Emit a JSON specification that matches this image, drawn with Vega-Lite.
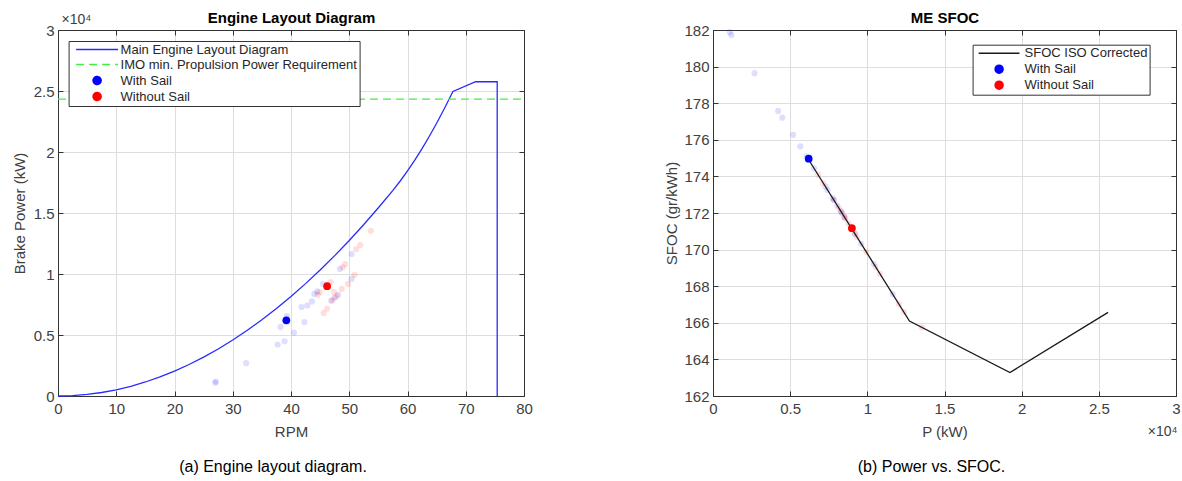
{
  "$schema": "https://vega.github.io/schema/vega-lite/v6.json",
  "background": "white",
  "padding": {"left": 11, "top": 10, "right": 2, "bottom": 2},
  "datasets": {
    "engine": [
      {"step": 1, "rpm": 0, "power": 0},
      {"step": 2, "rpm": 2.5, "power": 32},
      {"step": 3, "rpm": 5, "power": 128},
      {"step": 4, "rpm": 7.5, "power": 287},
      {"step": 5, "rpm": 10, "power": 510},
      {"step": 6, "rpm": 12.5, "power": 797},
      {"step": 7, "rpm": 15, "power": 1148},
      {"step": 8, "rpm": 17.5, "power": 1562},
      {"step": 9, "rpm": 20, "power": 2040},
      {"step": 10, "rpm": 22.5, "power": 2582},
      {"step": 11, "rpm": 25, "power": 3188},
      {"step": 12, "rpm": 27.5, "power": 3857},
      {"step": 13, "rpm": 30, "power": 4590},
      {"step": 14, "rpm": 32.5, "power": 5387},
      {"step": 15, "rpm": 35, "power": 6248},
      {"step": 16, "rpm": 37.5, "power": 7172},
      {"step": 17, "rpm": 40, "power": 8160},
      {"step": 18, "rpm": 42.5, "power": 9212},
      {"step": 19, "rpm": 45, "power": 10328},
      {"step": 20, "rpm": 47.5, "power": 11507},
      {"step": 21, "rpm": 50, "power": 12750},
      {"step": 22, "rpm": 52.5, "power": 14056},
      {"step": 23, "rpm": 55, "power": 15427},
      {"step": 24, "rpm": 57.5, "power": 16860},
      {"step": 25, "rpm": 58.75, "power": 17624},
      {"step": 26, "rpm": 60, "power": 18449},
      {"step": 27, "rpm": 61.25, "power": 19334},
      {"step": 28, "rpm": 62.5, "power": 20280},
      {"step": 29, "rpm": 63.75, "power": 21287},
      {"step": 30, "rpm": 65, "power": 22354},
      {"step": 31, "rpm": 66.4, "power": 23621},
      {"step": 32, "rpm": 67.8, "power": 24964},
      {"step": 33, "rpm": 71.7, "power": 25760},
      {"step": 34, "rpm": 75.4, "power": 25760},
      {"step": 35, "rpm": 75.4, "power": 0}
    ],
    "imo": [
      {"rpm": 0, "power": 24340},
      {"rpm": 80, "power": 24340}
    ],
    "obs": [
      {"sail": "With Sail", "rpm": 27.0, "power": 1080, "sfoc": 181.88},
      {"sail": "With Sail", "rpm": 27.1, "power": 1190, "sfoc": 181.73},
      {"sail": "With Sail", "rpm": 32.3, "power": 2690, "sfoc": 179.64},
      {"sail": "With Sail", "rpm": 37.7, "power": 4220, "sfoc": 177.58},
      {"sail": "With Sail", "rpm": 38.9, "power": 4490, "sfoc": 177.21},
      {"sail": "With Sail", "rpm": 40.5, "power": 5190, "sfoc": 176.27},
      {"sail": "With Sail", "rpm": 38.2, "power": 5660, "sfoc": 175.64},
      {"sail": "With Sail", "rpm": 39.3, "power": 6550, "sfoc": 174.44},
      {"sail": "With Sail", "rpm": 42.3, "power": 6060, "sfoc": 175.10},
      {"sail": "With Sail", "rpm": 41.8, "power": 7290, "sfoc": 173.44},
      {"sail": "With Sail", "rpm": 42.8, "power": 7420, "sfoc": 173.26},
      {"sail": "With Sail", "rpm": 43.6, "power": 7750, "sfoc": 172.82},
      {"sail": "With Sail", "rpm": 44.0, "power": 8370, "sfoc": 171.98},
      {"sail": "With Sail", "rpm": 44.5, "power": 8570, "sfoc": 171.71},
      {"sail": "With Sail", "rpm": 45.5, "power": 9190, "sfoc": 170.87},
      {"sail": "With Sail", "rpm": 46.9, "power": 7830, "sfoc": 172.71},
      {"sail": "With Sail", "rpm": 47.5, "power": 8050, "sfoc": 172.41},
      {"sail": "With Sail", "rpm": 48.1, "power": 8300, "sfoc": 172.08},
      {"sail": "With Sail", "rpm": 48.4, "power": 10420, "sfoc": 169.22},
      {"sail": "With Sail", "rpm": 50.4, "power": 11640, "sfoc": 167.57},
      {"sail": "With Sail", "rpm": 50.4, "power": 9600, "sfoc": 170.32},
      {"sail": "Without Sail", "rpm": 44.6, "power": 8290, "sfoc": 172.09},
      {"sail": "Without Sail", "rpm": 44.9, "power": 8510, "sfoc": 171.79},
      {"sail": "Without Sail", "rpm": 45.6, "power": 6800, "sfoc": 174.10},
      {"sail": "Without Sail", "rpm": 46.2, "power": 7150, "sfoc": 173.63},
      {"sail": "Without Sail", "rpm": 46.8, "power": 9330, "sfoc": 170.69},
      {"sail": "Without Sail", "rpm": 47.1, "power": 7830, "sfoc": 172.71},
      {"sail": "Without Sail", "rpm": 47.8, "power": 8160, "sfoc": 172.26},
      {"sail": "Without Sail", "rpm": 48.7, "power": 8780, "sfoc": 171.43},
      {"sail": "Without Sail", "rpm": 48.9, "power": 10550, "sfoc": 169.04},
      {"sail": "Without Sail", "rpm": 49.3, "power": 10820, "sfoc": 168.68},
      {"sail": "Without Sail", "rpm": 49.8, "power": 9190, "sfoc": 170.87},
      {"sail": "Without Sail", "rpm": 50.9, "power": 9930, "sfoc": 169.88},
      {"sail": "Without Sail", "rpm": 51.2, "power": 12050, "sfoc": 167.02},
      {"sail": "Without Sail", "rpm": 51.9, "power": 12370, "sfoc": 166.59},
      {"sail": "Without Sail", "rpm": 53.7, "power": 13540, "sfoc": 165.75},
      {"sail": "Without Sail", "rpm": 47.4, "power": 8510, "sfoc": 171.79}
    ],
    "mean": [
      {"sail": "With Sail", "rpm": 39.2, "power": 6200, "sfoc": 174.97},
      {"sail": "Without Sail", "rpm": 46.2, "power": 9000, "sfoc": 171.17}
    ],
    "sfocCurve": [
      {"power": 6280, "sfoc": 174.8},
      {"power": 12730, "sfoc": 166.1},
      {"power": 19240, "sfoc": 163.28},
      {"power": 25600, "sfoc": 166.57}
    ]
  },
  "hconcat": [
    {
      "width": 466,
      "height": 366,
      "title": {"text": "(a) Engine layout diagram.", "orient": "bottom", "anchor": "middle", "dx": -18, "offset": 20, "fontSize": 16, "fontWeight": "normal", "color": "#000000"},
      "layer": [
        {
          "data": {"name": "engine"},
          "transform": [{"calculate": "'Main Engine Layout Diagram'", "as": "series"}],
          "mark": {"type": "line", "strokeWidth": 1.3, "interpolate": "linear"},
          "encoding": {
            "x": {"field": "rpm", "type": "quantitative", "scale": {"domain": [0, 80], "nice": false},
                  "axis": {"orient": "bottom", "title": "RPM", "values": [0, 10, 20, 30, 40, 50, 60, 70, 80], "grid": true, "labelPadding": 10, "titlePadding": 8}},
            "y": {"field": "power", "type": "quantitative", "scale": {"domain": [0, 30000], "nice": false},
                  "axis": {"orient": "left", "title": "Brake Power (kW)", "values": [0, 5000, 10000, 15000, 20000, 25000, 30000], "labelExpr": "format(datum.value / 10000, '~g')", "grid": true, "labelPadding": 9, "titlePadding": 6}},
            "order": {"field": "step", "type": "quantitative"},
            "color": {
              "field": "series", "type": "nominal",
              "scale": {"domain": ["Main Engine Layout Diagram", "IMO min. Propulsion Power Requirement", "With Sail", "Without Sail"], "range": ["#2a2aff", "#44ee44", "#0000ff", "#ff0000"]},
              "legend": {
                "title": null, "orient": "none", "legendX": 10.6, "legendY": 11,
                "padding": 2, "rowPadding": 1, "labelFontSize": 13, "labelColor": "#262626", "labelOffset": 17, "labelLimit": 400,
                "symbolOffset": 20, "symbolSize": 64,
                "strokeColor": "#333333", "fillColor": "#ffffff", "symbolStrokeWidth": 1.5,
                "encode": {"symbols": {"update": {
                  "shape": {"signal": "datum.value === 'With Sail' || datum.value === 'Without Sail' ? 'circle' : 'M-5.25,0H5.25'"},
                  "size": {"value": 64},
                  "fill": {"signal": "datum.value === 'With Sail' ? '#0000ff' : datum.value === 'Without Sail' ? '#ff0000' : 'transparent'"},
                  "stroke": {"signal": "datum.value === 'Main Engine Layout Diagram' ? '#2a2aff' : datum.value === 'IMO min. Propulsion Power Requirement' ? '#44ee44' : 'transparent'"},
                  "strokeDash": {"signal": "datum.value === 'IMO min. Propulsion Power Requirement' ? [8, 5] : [1, 0]"},
                  "strokeWidth": {"value": 1.5},
                  "opacity": {"value": 1}
                }}}
              }
            }
          }
        },
        {
          "data": {"name": "imo"},
          "transform": [{"calculate": "'IMO min. Propulsion Power Requirement'", "as": "series"}],
          "mark": {"type": "line", "strokeWidth": 1.3, "strokeDash": [8, 5]},
          "encoding": {
            "x": {"field": "rpm", "type": "quantitative",
                  "axis": {"orient": "top", "title": "Engine Layout Diagram", "titleColor": "#000000", "titleFontWeight": "bold", "titleFontSize": 15, "labels": false, "grid": false, "values": [0, 10, 20, 30, 40, 50, 60, 70, 80], "titlePadding": 4}},
            "y": {"field": "power", "type": "quantitative",
                  "axis": {"orient": "right", "title": "×10⁴", "titleAngle": 0, "titleAlign": "left", "titleBaseline": "alphabetic", "titleX": -463, "titleY": -7, "titleFontSize": 14, "labels": false, "grid": false, "values": [0, 5000, 10000, 15000, 20000, 25000, 30000]}},
            "color": {"field": "series", "type": "nominal"}
          }
        },
        {
          "data": {"name": "obs"},
          "mark": {"type": "point", "filled": true, "size": 38, "opacity": 0.13},
          "encoding": {
            "x": {"field": "rpm", "type": "quantitative", "axis": null},
            "y": {"field": "power", "type": "quantitative", "axis": null},
            "color": {"field": "sail", "type": "nominal"}
          }
        },
        {
          "data": {"name": "mean"},
          "mark": {"type": "point", "filled": true, "size": 60, "opacity": 1},
          "encoding": {
            "x": {"field": "rpm", "type": "quantitative", "axis": null},
            "y": {"field": "power", "type": "quantitative", "axis": null},
            "color": {"field": "sail", "type": "nominal"}
          }
        }
      ],
      "resolve": {"axis": {"x": "independent", "y": "independent"}}
    },
    {
      "width": 463,
      "height": 366,
      "title": {"text": "(b) Power vs. SFOC.", "orient": "bottom", "anchor": "middle", "dx": -13, "offset": 20, "fontSize": 16, "fontWeight": "normal", "color": "#000000"},
      "layer": [
        {
          "data": {"name": "obs"},
          "mark": {"type": "point", "filled": true, "size": 38, "opacity": 0.13},
          "encoding": {
            "x": {"field": "power", "type": "quantitative", "scale": {"domain": [0, 30000], "nice": false},
                  "axis": {"orient": "bottom", "title": "P (kW)", "values": [0, 5000, 10000, 15000, 20000, 25000, 30000], "labelExpr": "format(datum.value / 10000, '~g')", "grid": true, "labelPadding": 10, "titlePadding": 8}},
            "y": {"field": "sfoc", "type": "quantitative", "scale": {"domain": [162, 182], "nice": false, "zero": false},
                  "axis": {"orient": "left", "title": "SFOC (gr/kWh)", "values": [162, 164, 166, 168, 170, 172, 174, 176, 178, 180, 182], "grid": true, "labelPadding": 9, "titlePadding": 4}},
            "color": {
              "field": "sail", "type": "nominal",
              "scale": {"domain": ["SFOC ISO Corrected", "With Sail", "Without Sail"], "range": ["#1a1a1a", "#0000ff", "#ff0000"]},
              "legend": {
                "title": null, "orient": "none", "legendX": 259.6, "legendY": 14.7,
                "padding": 2, "rowPadding": 1, "labelFontSize": 13, "labelColor": "#262626", "labelOffset": 19, "labelLimit": 400,
                "symbolOffset": 18, "symbolSize": 64,
                "strokeColor": "#333333", "fillColor": "#ffffff", "symbolStrokeWidth": 1.5,
                "encode": {"symbols": {"update": {
                  "shape": {"signal": "datum.value === 'SFOC ISO Corrected' ? 'M-5.1,0H5.1' : 'circle'"},
                  "size": {"value": 64},
                  "fill": {"signal": "datum.value === 'With Sail' ? '#0000ff' : datum.value === 'Without Sail' ? '#ff0000' : 'transparent'"},
                  "stroke": {"signal": "datum.value === 'SFOC ISO Corrected' ? '#1a1a1a' : 'transparent'"},
                  "strokeWidth": {"value": 1.5},
                  "opacity": {"value": 1}
                }}}
              }
            }
          }
        },
        {
          "data": {"name": "sfocCurve"},
          "transform": [{"calculate": "'SFOC ISO Corrected'", "as": "sail"}],
          "mark": {"type": "line", "strokeWidth": 1.3},
          "encoding": {
            "x": {"field": "power", "type": "quantitative",
                  "axis": {"orient": "top", "title": "ME SFOC", "titleColor": "#000000", "titleFontWeight": "bold", "titleFontSize": 15, "labels": false, "grid": false, "values": [0, 5000, 10000, 15000, 20000, 25000, 30000], "titlePadding": 4}},
            "y": {"field": "sfoc", "type": "quantitative",
                  "axis": {"orient": "right", "title": "×10⁴", "titleAngle": 0, "titleAlign": "right", "titleBaseline": "alphabetic", "titleX": 1, "titleY": 405, "titleFontSize": 14, "labels": false, "grid": false, "values": [162, 164, 166, 168, 170, 172, 174, 176, 178, 180, 182]}},
            "color": {
              "field": "sail", "type": "nominal",
              "legend": {
                "title": null, "orient": "none", "legendX": 259.6, "legendY": 14.7,
                "padding": 2, "rowPadding": 1, "labelFontSize": 13, "labelColor": "#262626", "labelOffset": 19, "labelLimit": 400,
                "symbolOffset": 18, "symbolSize": 64,
                "strokeColor": "#333333", "fillColor": "#ffffff", "symbolStrokeWidth": 1.5,
                "encode": {"symbols": {"update": {
                  "shape": {"signal": "datum.value === 'SFOC ISO Corrected' ? 'M-5.1,0H5.1' : 'circle'"},
                  "size": {"value": 64},
                  "fill": {"signal": "datum.value === 'With Sail' ? '#0000ff' : datum.value === 'Without Sail' ? '#ff0000' : 'transparent'"},
                  "stroke": {"signal": "datum.value === 'SFOC ISO Corrected' ? '#1a1a1a' : 'transparent'"},
                  "strokeWidth": {"value": 1.5},
                  "opacity": {"value": 1}
                }}}
              }
            }
          }
        },
        {
          "data": {"name": "mean"},
          "mark": {"type": "point", "filled": true, "size": 60, "opacity": 1},
          "encoding": {
            "x": {"field": "power", "type": "quantitative", "axis": null},
            "y": {"field": "sfoc", "type": "quantitative", "axis": null},
            "color": {"field": "sail", "type": "nominal"}
          }
        }
      ],
      "resolve": {"axis": {"x": "independent", "y": "independent"}}
    }
  ],
  "spacing": 131,
  "resolve": {"scale": {"color": "independent"}, "legend": {"color": "independent"}},
  "config": {
    "font": "Liberation Sans",
    "view": {"stroke": "#333333", "strokeWidth": 1},
    "axis": {
      "gridColor": "#dedede", "gridWidth": 1, "gridOpacity": 1,
      "domainColor": "#333333", "domainWidth": 1,
      "tickColor": "#333333", "tickSize": -5, "tickWidth": 1,
      "labelFlush": false,
      "labelColor": "#404040", "labelFontSize": 15, "labelFont": "Liberation Sans",
      "titleColor": "#404040", "titleFontSize": 15, "titleFontWeight": "normal", "titleFont": "Liberation Sans"
    },
    "title": {"font": "Liberation Sans"},
    "legend": {"labelFont": "Liberation Sans"}
  }
}
